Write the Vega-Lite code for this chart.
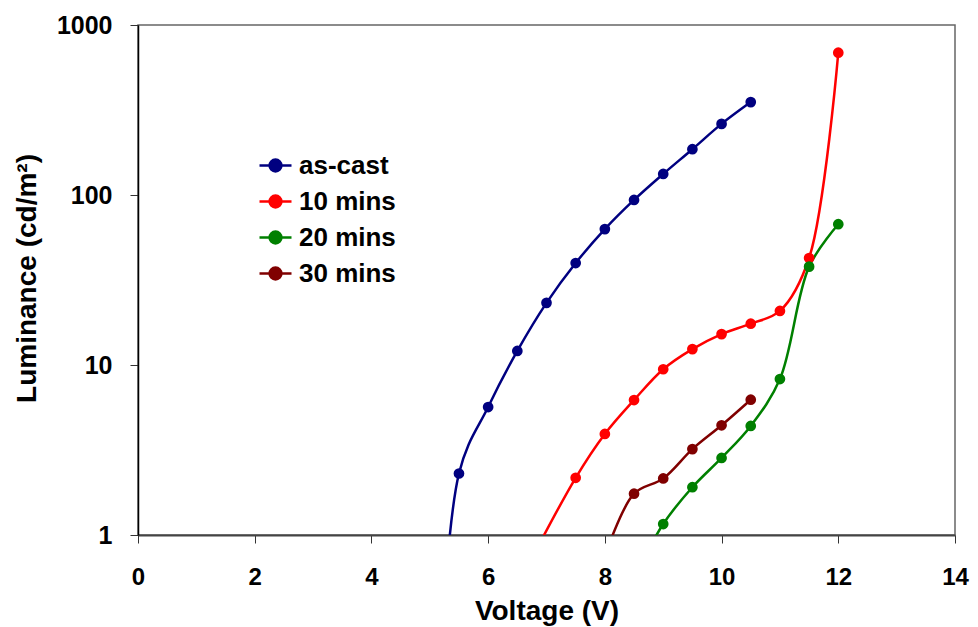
{
  "$schema": "https://vega.github.io/schema/vega-lite/v6.json",
  "width": 817,
  "height": 510,
  "autosize": "none",
  "padding": {"left": 138, "top": 25, "right": 23, "bottom": 92},
  "background": "white",
  "config": {
    "font": "Liberation Sans",
    "view": {"stroke": "#666666", "strokeWidth": 1.5},
    "axis": {"grid": false, "labelFont": "Liberation Sans", "titleFont": "Liberation Sans", "labelFontWeight": "bold", "titleFontWeight": "bold", "labelColor": "black", "titleColor": "black", "tickColor": "#333333", "tickSize": 8, "labelFlush": false, "labelOverlap": false}
  },
  "data": {
    "values": [
      {"series": "as-cast", "V": 5.0, "L": 0.005},
      {"series": "as-cast", "V": 5.5, "L": 2.3},
      {"series": "as-cast", "V": 6.0, "L": 5.66},
      {"series": "as-cast", "V": 6.5, "L": 12.1},
      {"series": "as-cast", "V": 7.0, "L": 23.2},
      {"series": "as-cast", "V": 7.5, "L": 39.8},
      {"series": "as-cast", "V": 8.0, "L": 63},
      {"series": "as-cast", "V": 8.5, "L": 93.5},
      {"series": "as-cast", "V": 9.0, "L": 133},
      {"series": "as-cast", "V": 9.5, "L": 186},
      {"series": "as-cast", "V": 10.0, "L": 262},
      {"series": "as-cast", "V": 10.5, "L": 352},
      {"series": "10 mins", "V": 6.5, "L": 0.5},
      {"series": "10 mins", "V": 7.5, "L": 2.17},
      {"series": "10 mins", "V": 8.0, "L": 3.93},
      {"series": "10 mins", "V": 8.5, "L": 6.22},
      {"series": "10 mins", "V": 9.0, "L": 9.44},
      {"series": "10 mins", "V": 9.5, "L": 12.4},
      {"series": "10 mins", "V": 10.0, "L": 15.2},
      {"series": "10 mins", "V": 10.5, "L": 17.5},
      {"series": "10 mins", "V": 11.0, "L": 20.8},
      {"series": "10 mins", "V": 11.5, "L": 42.6},
      {"series": "10 mins", "V": 12.0, "L": 687},
      {"series": "20 mins", "V": 8.5, "L": 0.56},
      {"series": "20 mins", "V": 9.0, "L": 1.16},
      {"series": "20 mins", "V": 9.5, "L": 1.91},
      {"series": "20 mins", "V": 10.0, "L": 2.84},
      {"series": "20 mins", "V": 10.5, "L": 4.38},
      {"series": "20 mins", "V": 11.0, "L": 8.27},
      {"series": "20 mins", "V": 11.5, "L": 37.9},
      {"series": "20 mins", "V": 12.0, "L": 67.3},
      {"series": "30 mins", "V": 8.0, "L": 0.75},
      {"series": "30 mins", "V": 8.5, "L": 1.75},
      {"series": "30 mins", "V": 9.0, "L": 2.15},
      {"series": "30 mins", "V": 9.5, "L": 3.2},
      {"series": "30 mins", "V": 10.0, "L": 4.42},
      {"series": "30 mins", "V": 10.5, "L": 6.25}
    ]
  },
  "mark": {"type": "line", "interpolate": "catmull-rom", "strokeWidth": 2.5, "clip": true, "point": {"filled": true, "size": 115, "opacity": 1}},
  "encoding": {
    "x": {
      "field": "V", "type": "quantitative",
      "scale": {"domain": [0, 14], "nice": false, "zero": false},
      "axis": {"values": [0, 2, 4, 6, 8, 10, 12, 14], "title": "Voltage (V)", "labelFontSize": 24, "titleFontSize": 28, "labelPadding": 22, "titlePadding": 8, "domainColor": "#444444", "domainWidth": 2}
    },
    "y": {
      "field": "L", "type": "quantitative",
      "scale": {"type": "log", "domain": [1, 1000], "nice": false},
      "axis": {"values": [1, 10, 100, 1000], "format": "d", "title": "Luminance (cd/m²)", "labelFontSize": 25, "titleFontSize": 28, "labelPadding": 18, "titleX": -111, "titleY": 253, "titleAlign": "center", "titleBaseline": "middle", "titleAngle": -90, "domainColor": "black", "domainWidth": 1.5}
    },
    "color": {
      "field": "series", "type": "nominal",
      "scale": {"domain": ["as-cast", "10 mins", "20 mins", "30 mins"], "range": ["#000080", "#FF0000", "#008000", "#800000"]},
      "legend": {
        "title": null, "orient": "none", "legendX": 120, "legendY": 123,
        "labelFontSize": 26, "labelFontWeight": "bold", "labelColor": "black", "labelFont": "Liberation Sans",
        "symbolType": "M -1 0 L 1 0 M -0.37 0 A 0.37 0.37 0 1 1 0.37 0 A 0.37 0.37 0 1 1 -0.37 0 Z",
        "symbolSize": 1024, "symbolStrokeWidth": 2.5, "rowPadding": 5, "labelOffset": 6,
        "encode": {"symbols": {"update": {"fill": {"scale": "color", "field": "value"}, "stroke": {"scale": "color", "field": "value"}, "opacity": {"value": 1}}}}
      }
    }
  }
}
